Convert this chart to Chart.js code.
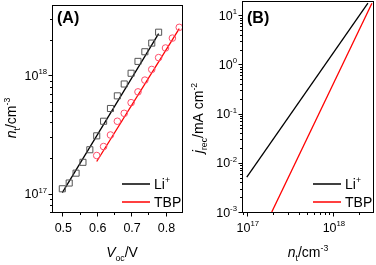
<!DOCTYPE html>
<html>
<head>
<meta charset="utf-8">
<script src="https://cdn.jsdelivr.net/npm/chart.js@4.4.1/dist/chart.umd.min.js"></script>
<style>
  body { margin: 0; background: #fff; }
  #wrap { position: relative; width: 376px; height: 265px; }
  canvas { position: absolute; top: 0; }
  #chartA { left: 0; }
  #chartB { left: 188px; }
</style>
</head>
<body>
<div id="wrap">
  <canvas id="chartA" width="188" height="265"></canvas>
  <canvas id="chartB" width="188" height="265"></canvas>
</div>
<script>
// Panel A: trap density vs Voc
const vocLi = [0.50, 0.52, 0.54, 0.56, 0.58, 0.60, 0.62, 0.64, 0.66, 0.68, 0.70, 0.72, 0.74, 0.76, 0.78];
const ntLi = [1.10e17, 1.23e17, 1.49e17, 1.84e17, 2.35e17, 3.08e17, 4.09e17, 5.24e17, 6.70e17, 8.44e17, 1.04e18, 1.31e18, 1.58e18, 1.87e18, 2.31e18];
const vocTbp = [0.60, 0.62, 0.64, 0.66, 0.68, 0.70, 0.72, 0.74, 0.76, 0.78, 0.80, 0.82, 0.84];
const ntTbp = [2.10e17, 2.50e17, 3.13e17, 4.09e17, 4.77e17, 5.87e17, 7.24e17, 9.10e17, 1.12e18, 1.41e18, 1.70e18, 2.06e18, 2.54e18];
// fitted lines (end points)
const fitLiV = [0.50, 0.78];
const fitLiN = [1.02e17, 2.25e18];
const fitTbpV = [0.60, 0.84];
const fitTbpN = [1.87e17, 2.48e18];

// Panel B: recombination current vs trap density
const jNtLi = [1.0e17, 2.55e18];
const jLi = [5.1e-3, 17.6];
const jNtTbp = [1.95e17, 2.84e18];
const jTbp = [1.0e-3, 17.6];

// ticks
const xTicksA = [0.5, 0.6, 0.7, 0.8];
const xTickLabelsA = ['0.5', '0.6', '0.7', '0.8'];
const xMinorA = [0.55, 0.65, 0.75, 0.85];
const yExpA = [17, 18];
const xExpB = [17, 18];
const yExpB = [-3, -2, -1, 0, 1];

const legendNames = ['Li', 'TBP'];
const seriesColors = ['#000000', '#ff0000'];

const FONT = '"Liberation Sans", Arial, sans-serif';

function xy(xs, ys) { return xs.map((x, i) => ({ x: x, y: ys[i] })); }

// draw text made of parts: {t, it, sub, sup}
function richWidth(ctx, parts, size) {
  let w = 0;
  parts.forEach(p => {
    const s = (p.sub || p.sup) ? size * 0.62 : size;
    ctx.font = (p.it ? 'italic ' : '') + s + 'px ' + FONT;
    w += ctx.measureText(p.t).width;
  });
  return w;
}
function drawRich(ctx, parts, x, y, size, align) {
  let w = richWidth(ctx, parts, size);
  let cx = align === 'center' ? x - w / 2 : (align === 'right' ? x - w : x);
  ctx.textBaseline = 'alphabetic';
  ctx.textAlign = 'left';
  parts.forEach(p => {
    const s = (p.sub || p.sup) ? size * 0.62 : size;
    ctx.font = (p.it ? 'italic ' : '') + s + 'px ' + FONT;
    let dy = p.sub ? size * 0.28 : (p.sup ? -size * 0.45 : 0);
    ctx.fillText(p.t, cx, y + dy);
    cx += ctx.measureText(p.t).width;
  });
}

function minorLog(lo, hi) {
  const out = [];
  for (let e = Math.floor(Math.log10(lo)); e <= Math.ceil(Math.log10(hi)); e++) {
    for (let m = 2; m <= 9; m++) {
      const v = m * Math.pow(10, e);
      if (v >= lo && v <= hi) out.push(v);
    }
  }
  return out;
}

function framePlugin(cfg) {
  return {
    id: 'frame',
    afterDraw(chart) {
      const ctx = chart.ctx;
      const a = chart.chartArea;
      const xs = chart.scales.x, ys = chart.scales.y;
      ctx.save();
      ctx.strokeStyle = '#000';
      ctx.lineWidth = 1;
      ctx.strokeRect(Math.round(a.left) + 0.5, Math.round(a.top) + 0.5, Math.round(a.right - a.left) - 1, Math.round(a.bottom - a.top));
      const bottom = Math.round(a.bottom) + 0.5;
      const left = Math.round(a.left) + 0.5;
      ctx.beginPath();
      cfg.xMajor.forEach(v => { const px = Math.round(xs.getPixelForValue(v)) + 0.5; ctx.moveTo(px, bottom); ctx.lineTo(px, bottom + 4); });
      cfg.xMinor.forEach(v => { const px = Math.round(xs.getPixelForValue(v)) + 0.5; if (px > a.left && px < a.right) { ctx.moveTo(px, bottom); ctx.lineTo(px, bottom + 2.5); } });
      cfg.yMajor.forEach(v => { const py = Math.round(ys.getPixelForValue(v)) + 0.5; ctx.moveTo(left, py); ctx.lineTo(left - 4, py); });
      cfg.yMinor.forEach(v => { const py = Math.round(ys.getPixelForValue(v)) + 0.5; ctx.moveTo(left, py); ctx.lineTo(left - 2.5, py); });
      ctx.stroke();

      ctx.fillStyle = '#000';
      cfg.xMajor.forEach((v, i) => {
        drawRich(ctx, cfg.xLabels[i], xs.getPixelForValue(v) + 1, a.bottom + 20, 12.5, 'center');
      });
      cfg.yMajor.forEach((v, i) => {
        drawRich(ctx, cfg.yLabels[i], a.left - 5, ys.getPixelForValue(v) + 4.5, 12.5, 'right');
      });

      // axis titles
      drawRich(ctx, cfg.xTitle, cfg.xTitlePos[0], cfg.xTitlePos[1], 14, 'center');
      ctx.save();
      ctx.translate(cfg.yTitlePos[0], cfg.yTitlePos[1]);
      ctx.rotate(-Math.PI / 2);
      drawRich(ctx, cfg.yTitle, 0, 0, 14, 'center');
      ctx.restore();

      // panel label
      ctx.font = 'bold 16px ' + FONT;
      ctx.textAlign = 'left';
      ctx.textBaseline = 'alphabetic';
      ctx.fillText(cfg.panel, a.left + 5, 23);

      // legend
      legendNames.forEach((name, i) => {
        const ly = cfg.legendY + i * 18;
        ctx.strokeStyle = seriesColors[i];
        ctx.lineWidth = 1.5;
        ctx.beginPath();
        ctx.moveTo(cfg.legendX, ly);
        ctx.lineTo(cfg.legendX + 28, ly);
        ctx.stroke();
        ctx.fillStyle = '#000';
        const parts = i === 0 ? [{ t: name }, { t: '+', sup: true }] : [{ t: name }];
        drawRich(ctx, parts, cfg.legendX + 32, ly + 5, 14, 'left');
      });
      ctx.restore();
    }
  };
}

function makeScales(xType, xMin, xMax, yMin, yMax, yWidth) {
  return {
    x: {
      type: xType, min: xMin, max: xMax,
      grid: { display: false }, ticks: { display: false }, border: { display: false },
      afterFit(s) { s.height = 53; }
    },
    y: {
      type: 'logarithmic', min: yMin, max: yMax,
      grid: { display: false }, ticks: { display: false }, border: { display: false },
      afterFit(s) { s.width = yWidth; }
    }
  };
}

const pow10 = e => Math.pow(10, e);
const expLabel = e => [{ t: '10' }, { t: String(e), sup: true }];

// ---- Panel A
new Chart(document.getElementById('chartA'), {
  type: 'scatter',
  data: {
    datasets: [
      { data: xy(vocLi, ntLi), pointStyle: 'rect', pointRadius: 4.3, borderColor: '#555', backgroundColor: 'rgba(0,0,0,0)', borderWidth: 1 },
      { data: xy(vocTbp, ntTbp), pointStyle: 'circle', pointRadius: 3.3, borderColor: '#ff4d6a', backgroundColor: 'rgba(0,0,0,0)', borderWidth: 1 },
      { data: xy(fitLiV, fitLiN), showLine: true, pointRadius: 0, borderColor: seriesColors[0], borderWidth: 1.3 },
      { data: xy(fitTbpV, fitTbpN), showLine: true, pointRadius: 0, borderColor: seriesColors[1], borderWidth: 1.3 }
    ]
  },
  options: {
    responsive: false, animation: false,
    layout: { padding: { top: 1, right: 3, left: 0, bottom: 0 } },
    plugins: { legend: { display: false }, tooltip: { enabled: false } },
    scales: makeScales('linear', 0.47, 0.85, 7e16, 3.9e18, 52)
  },
  plugins: [framePlugin({
    xMajor: xTicksA, xMinor: xMinorA,
    xLabels: xTickLabelsA.map(t => [{ t: t }]),
    yMajor: yExpA.map(pow10), yMinor: minorLog(7e16, 3.9e18),
    yLabels: yExpA.map(expLabel),
    xTitle: [{ t: 'V', it: true }, { t: 'oc', sub: true }, { t: '/V' }],
    xTitlePos: [122, 257],
    yTitle: [{ t: 'n', it: true }, { t: 't', sub: true }, { t: '/cm' }, { t: '-3', sup: true }],
    yTitlePos: [16, 118],
    panel: '(A)',
    legendX: 122, legendY: 184
  })]
});

// ---- Panel B
new Chart(document.getElementById('chartB'), {
  type: 'scatter',
  data: {
    datasets: [
      { data: xy(jNtLi, jLi), showLine: true, pointRadius: 0, borderColor: seriesColors[0], borderWidth: 1.3 },
      { data: xy(jNtTbp, jTbp), showLine: true, pointRadius: 0, borderColor: seriesColors[1], borderWidth: 1.3 }
    ]
  },
  options: {
    responsive: false, animation: false,
    layout: { padding: { top: 1, right: 2, left: 0, bottom: 0 } },
    plugins: { legend: { display: false }, tooltip: { enabled: false } },
    scales: makeScales('logarithmic', 8.8e16, 3e18, 1e-3, 19.5, 54)
  },
  plugins: [framePlugin({
    xMajor: xExpB.map(pow10), xMinor: minorLog(8.8e16, 3e18),
    xLabels: xExpB.map(expLabel),
    yMajor: yExpB.map(pow10), yMinor: minorLog(1e-3, 19.5),
    yLabels: yExpB.map(expLabel),
    xTitle: [{ t: 'n', it: true }, { t: 't', sub: true }, { t: '/cm' }, { t: '-3', sup: true }],
    xTitlePos: [120, 257],
    yTitle: [{ t: 'j', it: true }, { t: 'rec', sub: true }, { t: '/mA cm' }, { t: '-2', sup: true }],
    yTitlePos: [15, 118],
    panel: '(B)',
    legendX: 125, legendY: 184
  })]
});
</script>
</body>
</html>
